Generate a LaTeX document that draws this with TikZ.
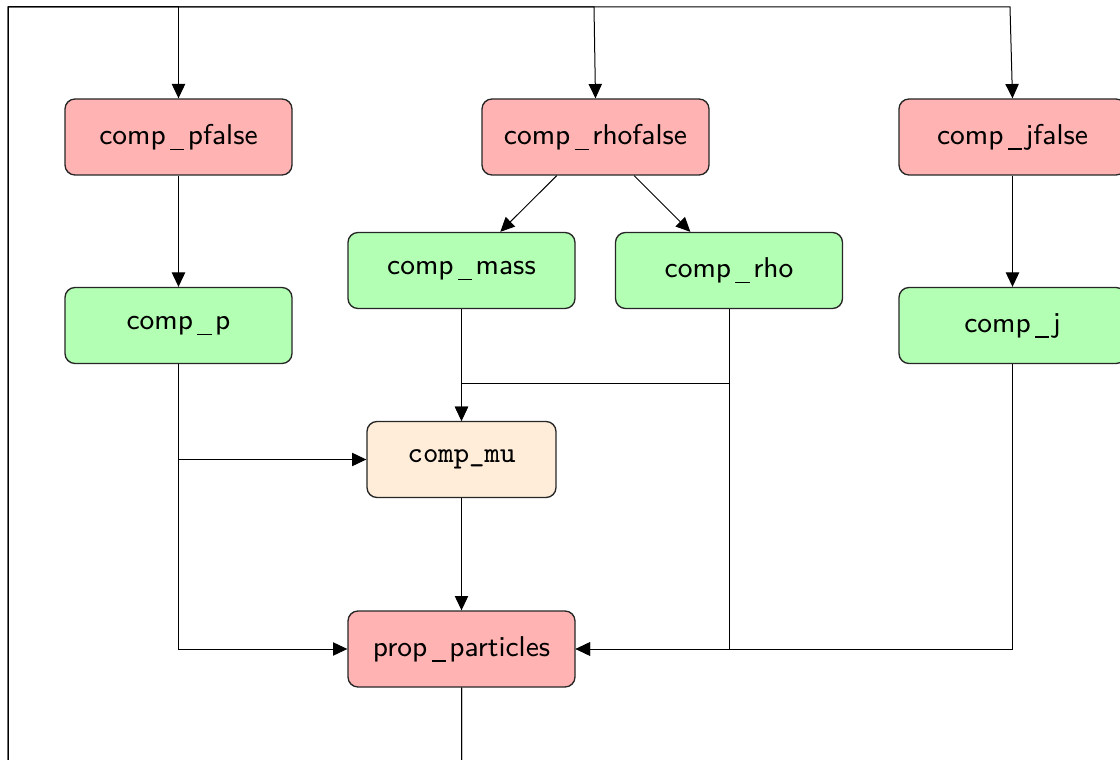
\documentclass[tikz,border=0pt]{standalone}
\usetikzlibrary{arrows.meta}
\definecolor{redfill}{HTML}{FFB3B3}
\definecolor{greenfill}{HTML}{B3FFB3}
\definecolor{mufill}{HTML}{FFECD9}
\newcommand\usc{\kern0.15em\rule[-0.2em]{0.5em}{0.05em}\kern0.12em}
\tikzset{
  box/.style={draw=black!85, line width=0.4pt, rounded corners=3pt, minimum width=68.1pt, minimum height=22.8pt, inner sep=0pt, font=\fontsize{8.6}{10}\selectfont\sffamily},
  redbox/.style={box, fill=redfill},
  greenbox/.style={box, fill=greenfill},
  mubox/.style={box, fill=mufill, minimum width=56.7pt, font=\fontsize{8.8}{10}\selectfont\ttfamily},
  arr/.style={draw=black, line width=0.3pt, -{Triangle[length=4.3pt, width=4pt]}},
  ln/.style={draw=black, line width=0.3pt}
}
\begin{document}
\begin{tikzpicture}[x=0.3pt, y=-0.3pt]
\useasboundingbox (0,0) rectangle (1120,760);
\clip (0,0) rectangle (1120,760);
\node[redbox] (pfalse) at (178.5,137) {comp\usc pfalse};
\node[redbox] (rhofalse) at (595.5,137) {comp\usc rhofalse};
\node[redbox] (jfalse) at (1012.5,137) {comp\usc jfalse};
\node[greenbox] (mass) at (461.5,270.5) {comp\usc mass};
\node[greenbox] (rho) at (729,270.5) {comp\usc rho};
\node[greenbox] (p) at (178.5,325.5) {comp\usc p};
\node[greenbox] (j) at (1012.5,325.5) {comp\usc j};
\node[mubox] (mu) at (461.5,459.5) {comp\_mu};
\node[redbox] (prop) at (461.5,649) {prop\usc particles};
\coordinate (bot) at (461.5,790);
\coordinate (bl) at (8,790);
\coordinate (tl) at (8,7);
\coordinate (t1) at (178.5,7);
\coordinate (t2) at (594,7);
\coordinate (t3) at (1010,7);
\coordinate (jm) at (461.5,384);
% feedback loop
\draw[arr] (prop.south) -- (bot) -- (bl) -- (tl) -- (t1) -- (pfalse.north);
\draw[arr] (prop.south) -- (bot) -- (bl) -- (tl) -- (t2) -- (rhofalse.north);
\draw[arr] (prop.south) -- (bot) -- (bl) -- (tl) -- (t3) -- (jfalse.north);
% forward edges
\draw[arr] (pfalse) -- (p);
\draw[arr] (rhofalse) -- (mass);
\draw[arr] (rhofalse) -- (rho);
\draw[arr] (jfalse) -- (j);
\draw[arr] (mass.south) -- (mu.north);
\draw[arr] (rho.south) -- (rho.south |- jm) -- (jm) -- (mu.north);
\draw[arr] (p.south) |- (mu.west);
\draw[arr] (p.south) |- (prop.west);
\draw[arr] (mu) -- (prop);
\draw[arr] (rho.south) |- (prop.east);
\draw[arr] (j.south) |- (prop.east);
\end{tikzpicture}
\end{document}
